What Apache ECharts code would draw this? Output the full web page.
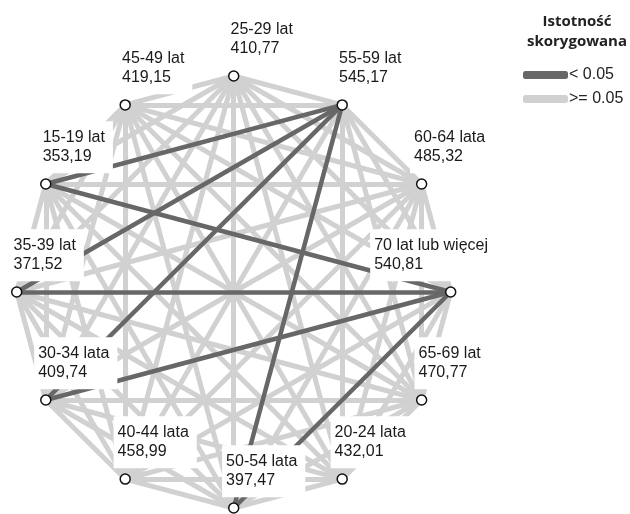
<!DOCTYPE html>
<html>
<head>
<meta charset="utf-8">
<script src="https://cdn.jsdelivr.net/npm/echarts@6/dist/echarts.min.js"></script>
<style>html,body{margin:0;padding:0;background:#fff}#c{width:630px;height:514px}</style>
</head>
<body>
<div id="c"></div>
<script>
// Groups in clockwise order around the circle, starting at the top
const groups = ['25-29 lat', '55-59 lat', '60-64 lata', '70 lat lub więcej', '65-69 lat', '20-24 lata',
  '50-54 lata', '40-44 lata', '30-34 lata', '35-39 lat', '15-19 lat', '45-49 lat'];
// Mean ranks shown under each group name
const meanRanks = [410.77, 545.17, 485.32, 540.81, 470.77, 432.01, 397.47, 458.99, 409.74, 371.52, 353.19, 419.15];
// Pairs with adjusted significance < 0.05
const significantPairs = [
  ['15-19 lat', '55-59 lat'],
  ['15-19 lat', '70 lat lub więcej'],
  ['35-39 lat', '70 lat lub więcej'],
  ['35-39 lat', '55-59 lat'],
  ['30-34 lata', '55-59 lat'],
  ['30-34 lata', '70 lat lub więcej'],
  ['50-54 lata', '55-59 lat'],
  ['50-54 lata', '70 lat lub więcej']
];
const legendNames = ['< 0.05', '>= 0.05'];

// layout helpers
const DARK = '#676767', LIGHT = '#d1d1d1';
const FONT = '16px "Liberation Sans", Arial, sans-serif';
function pos(i) {
  const a = (90 - 30 * i) * Math.PI / 180;
  return [Math.cos(a), Math.sin(a)];
}
function isSig(a, b) {
  return significantPairs.some(p => (p[0] === a && p[1] === b) || (p[0] === b && p[1] === a));
}
const darkEdges = [], lightEdges = [];
for (let i = 0; i < groups.length; i++) {
  for (let j = i + 1; j < groups.length; j++) {
    const e = { coords: [pos(i), pos(j)] };
    (isSig(groups[i], groups[j]) ? darkEdges : lightEdges).push(e);
  }
}
const fmt = v => v.toFixed(2).replace('.', ',');
const ctx = document.createElement('canvas').getContext('2d');
ctx.font = FONT;
const GRID_LEFT = 16.7, GRID_W = 434, RIGHT_LIMIT = 488, PADL = 4;
const nodes = groups.map((g, i) => {
  const w = Math.max(ctx.measureText(g).width, ctx.measureText(fmt(meanRanks[i])).width);
  const px = GRID_LEFT + (pos(i)[0] + 1) / 2 * GRID_W;
  let dx = 28 - w / 2;              // text block centred a little right of the node
  if (px + dx + w > RIGHT_LIMIT) dx = RIGHT_LIMIT - w - px;
  return { name: g, value: pos(i), label: { offset: [dx - PADL, 0] } };
});

const chart = echarts.init(document.getElementById('c'), null, { renderer: 'canvas' });
chart.setOption({
  animation: false,
  backgroundColor: '#fff',
  textStyle: { fontFamily: 'Liberation Sans, Arial, sans-serif' },
  title: {
    text: 'Istotność\nskorygowana',
    left: 577, top: 12, padding: 0,
    textStyle: { fontFamily: 'Open Sans', fontWeight: 'bold', fontSize: 15, lineHeight: 20, color: '#222', align: 'center' },
    textAlign: 'center'
  },
  legend: {
    orient: 'vertical', left: 518, top: 62, itemGap: 8,
    itemWidth: 43, itemHeight: 6, icon: 'roundRect',
    textStyle: { fontSize: 16, color: '#222', fontFamily: 'Liberation Sans, Arial, sans-serif', padding: [0, 0, 0, -3] },
    data: legendNames,
    selectedMode: false
  },
  grid: { left: GRID_LEFT, width: GRID_W, top: 76, bottom: 6 },
  xAxis: { type: 'value', min: -1, max: 1, show: false },
  yAxis: { type: 'value', min: -1, max: 1, show: false },
  series: [
    {
      name: legendNames[1], type: 'lines', coordinateSystem: 'cartesian2d', silent: true,
      lineStyle: { color: LIGHT, width: 5, opacity: 1, cap: 'butt' },
      data: lightEdges, z: 1
    },
    {
      name: legendNames[0], type: 'lines', coordinateSystem: 'cartesian2d', silent: true,
      lineStyle: { color: DARK, width: 4.5, opacity: 1, cap: 'butt' },
      data: darkEdges, z: 2
    },
    {
      type: 'scatter', symbol: 'circle', symbolSize: 10, silent: true, z: 3,
      itemStyle: { color: '#fff', borderColor: '#111', borderWidth: 1.5, opacity: 1 },
      label: {
        show: true, position: 'top', distance: 5,
        formatter: p => p.name + '\n' + fmt(meanRanks[p.dataIndex]),
        fontSize: 16, lineHeight: 19, color: '#1a1a1a',
        backgroundColor: '#fff', padding: [7, 8, 7, PADL], align: 'left'
      },
      data: nodes
    }
  ]
});
</script>
</body>
</html>
